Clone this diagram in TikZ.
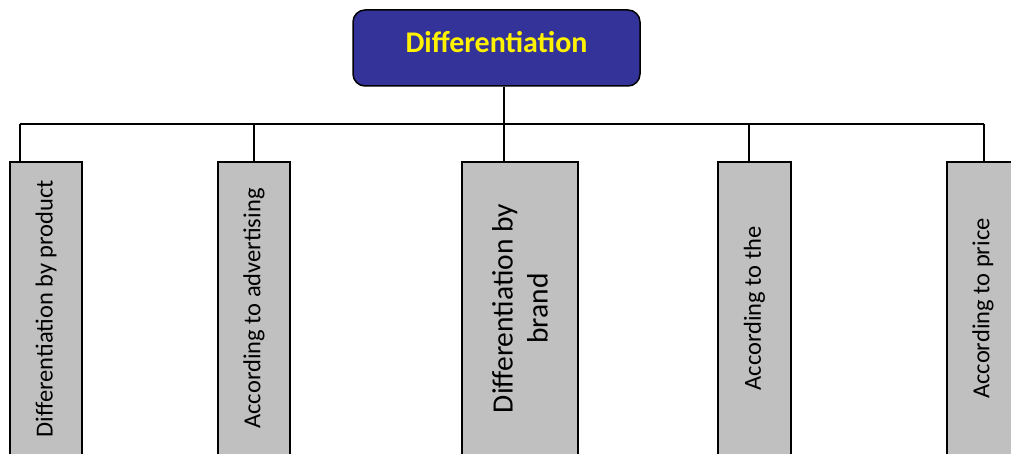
\documentclass[tikz,border=0pt]{standalone}
\usepackage{fontspec}
\setmainfont{Carlito}
\definecolor{headblue}{RGB}{51,51,153}
\definecolor{leafgray}{RGB}{192,192,192}
\tikzset{
  head/.style={draw,line width=1.5pt,rounded corners=12pt,fill=headblue,text=yellow,
    font=\fontsize{30}{36}\selectfont\bfseries,minimum width=287pt,minimum height=76pt,text depth=13pt},
  leaf/.style={draw,line width=1.2pt,fill=leafgray,rotate=90,minimum width=293pt,
    minimum height=72pt,inner sep=0pt,font=\fontsize{24.5}{29}\selectfont},
  link/.style={line width=1.2pt}
}
\begin{document}
\begin{tikzpicture}[x=1pt,y=-1pt]
        \clip (0,0) rectangle (1011,454);
        \node[head] (top) at (496.5,48) {Differentiation};
        \node[leaf] (lf1) at (46,308.5) {Differentiation by product};
        \node[leaf] (lf2) at (254,308.5) {According to advertising};
        \node[leaf,minimum height=116pt,align=center,font=\fontsize{29.5}{35}\selectfont] (lf3) at (520,308.5) {Differentiation by\\brand};
        \node[leaf,minimum height=73pt] (lf4) at (754.5,308.5) {According to the};
        \node[leaf] (lf5) at (983,308.5) {According to price};
        % bus and drops
        \coordinate (hub) at (504,124);
        \foreach \n/\x in {1/20,2/254,3/504,4/749,5/984}{
            \coordinate (c\n) at (\x,124);
        }
        \draw[link] (c1) -- (c5);
        \draw[link] (hub |- top.south) -- (hub);
        \foreach \n in {1,...,5}{
            \draw[link] (c\n) -- (c\n |- lf\n.east);
        }
\end{tikzpicture}
\end{document}
